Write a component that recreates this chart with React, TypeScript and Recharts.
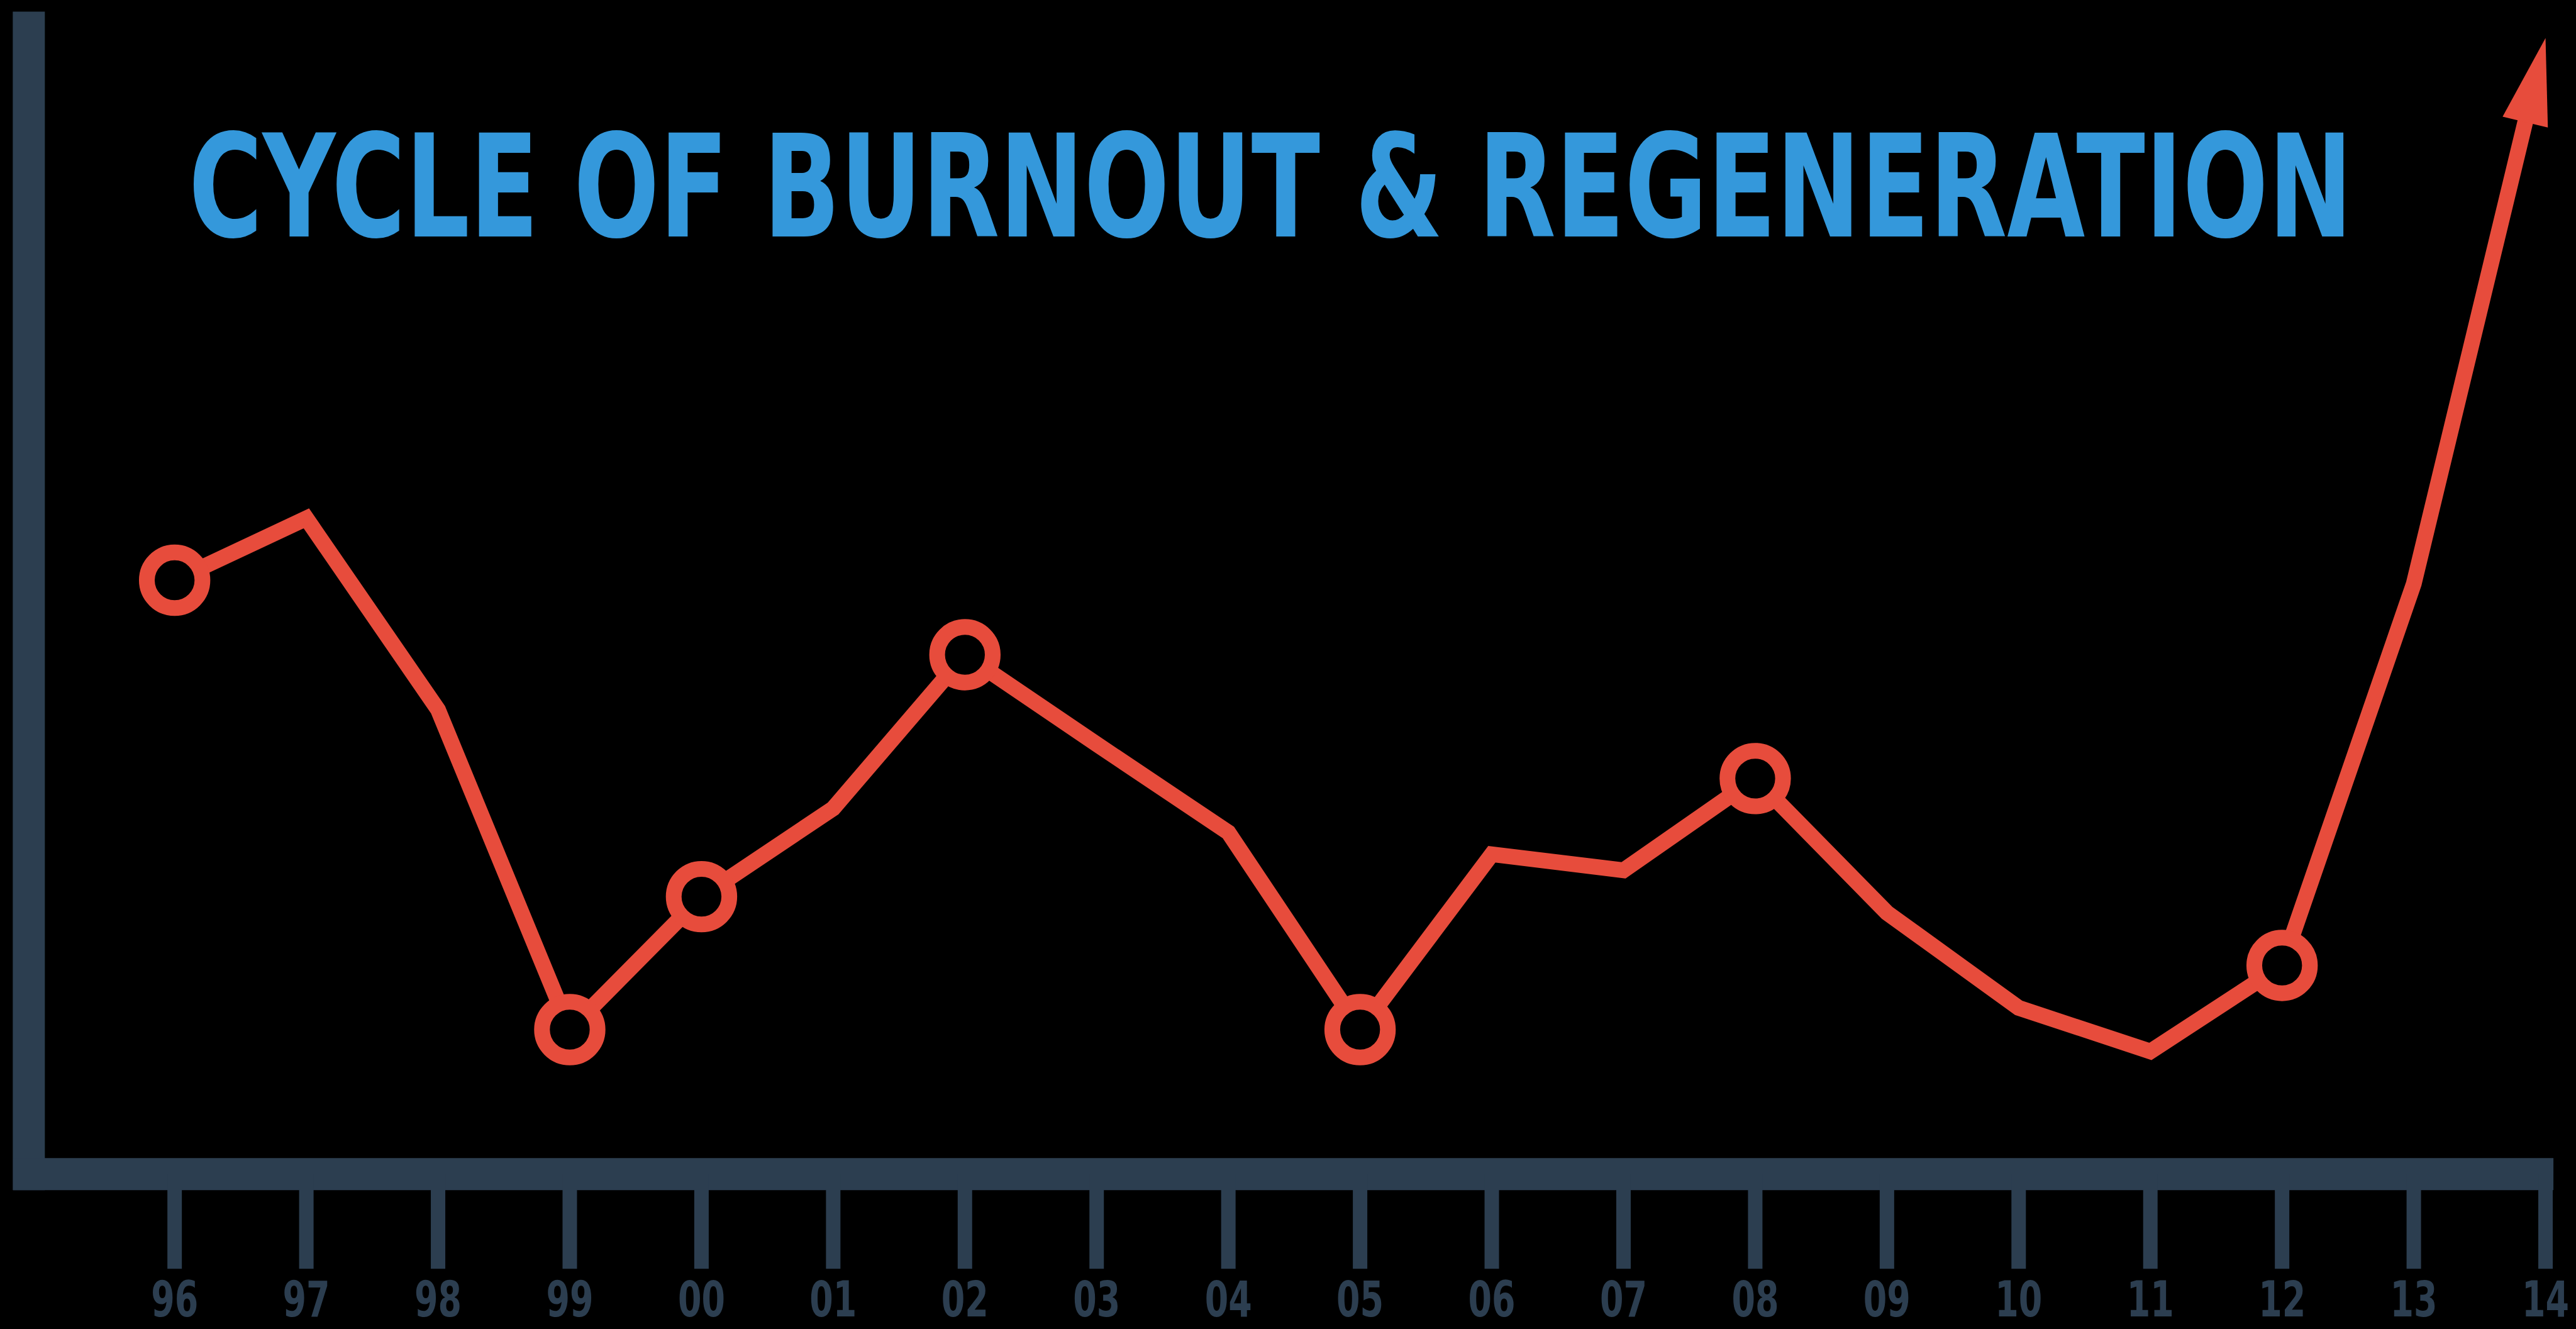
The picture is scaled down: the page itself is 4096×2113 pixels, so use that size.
// Cycle of burnout & regeneration — red line over a dark L-shaped frame
import { LineChart, Line, XAxis, YAxis, ReferenceLine, Customized } from 'recharts'

const years = ['96', '97', '98', '99', '00', '01', '02', '03', '04', '05', '06', '07', '08', '09', '10', '11', '12', '13', '14']
const energy = [51.8, 57.2, 40.5, 12.6, 24.2, 31.9, 45.3, 37.5, 29.8, 12.6, 27.9, 26.5, 34.5, 22.8, 14.5, 10.7, 18.2, 51.5, 99.1]
const ringed = [true, false, false, true, true, false, true, false, false, true, false, false, true, false, false, false, true, false, false]

const chartData = years.map((year, i) => ({ i, year, value: energy[i], ring: ringed[i] }))

const W = 4096
const H = 2113
const FRAME = '#2c3e50'
const RED = '#e74c3c'
const BLUE = '#3498db'
const FONT = "'Liberation Sans Narrow', 'DejaVu Sans Condensed', sans-serif"
const TITLE = 'CYCLE OF BURNOUT & REGENERATION'

// x domain runs from the left edge of the frame to the right end of the bottom bar
const X_MIN = -1.226
const X_MAX = 18.06
const FRAME_X = -1.107

let ctx: CanvasRenderingContext2D | null = null
function textWidth(text: string, size: number): number {
  if (!ctx) ctx = document.createElement('canvas').getContext('2d')
  if (!ctx) return text.length * size * 0.6
  ctx.font = `bold ${size}px ${FONT}`
  return ctx.measureText(text).width
}

function Ring(props: any) {
  const { cx, cy, payload, index } = props
  if (!payload?.ring) return <g key={`d-${index}`} />
  return <circle key={`d-${index}`} cx={cx} cy={cy} r={44.2} fill="#000" stroke={RED} strokeWidth={25} />
}

function YearTick({ x, y, payload }: any) {
  const label = years[payload.value]
  const size = 77.8
  const sx = 75 / textWidth(label, size)
  return (
    <g transform={`translate(${x}, ${y + 75.7}) scale(${sx}, 1)`}>
      <text x={0} y={0} textAnchor="middle" fill={FRAME} fontSize={size} fontWeight="bold" fontFamily={FONT}>
        {label}
      </text>
    </g>
  )
}

function Title() {
  const size = 226
  const sx = 3441 / textWidth(TITLE, size)
  return (
    <g transform={`translate(300, 375.7) scale(${sx}, 1)`}>
      <text x={0} y={0} fill={BLUE} fontSize={size} fontWeight="bold" fontFamily={FONT}>
        {TITLE}
      </text>
    </g>
  )
}

export default function App() {
  return (
    <div style={{ position: 'absolute', left: 0, top: 0, width: W, height: H, background: '#000' }}>
      <LineChart width={W} height={H} data={chartData} margin={{ top: 44, right: 35.9, bottom: 0, left: 20.9 }}>
        <defs>
          <marker
            id="arrowHead"
            markerUnits="userSpaceOnUse"
            viewBox="-150 -50 160 100"
            markerWidth={160}
            markerHeight={100}
            refX={0}
            refY={0}
            orient="auto"
          >
            <rect x={-55} y={-14} width={57} height={28} fill="#000" />
            <polygon points="0,0 -137.5,-37 -137.5,37" fill={RED} />
          </marker>
        </defs>
        <XAxis
          type="number"
          dataKey="i"
          domain={[X_MIN, X_MAX]}
          ticks={years.map((_, i) => i)}
          interval={0}
          height={246.3}
          tickSize={150.6}
          tickMargin={0}
          axisLine={{ stroke: FRAME, strokeWidth: 51 }}
          tickLine={{ stroke: FRAME, strokeWidth: 23 }}
          tick={<YearTick />}
        />
        <YAxis type="number" domain={[0, 100]} hide />
        <ReferenceLine x={FRAME_X} stroke={FRAME} strokeWidth={51} strokeLinecap="square" />
        <Line
          type="linear"
          dataKey="value"
          stroke={RED}
          strokeWidth={25}
          strokeLinejoin="miter"
          markerEnd="url(#arrowHead)"
          dot={(p: any) => <Ring {...p} />}
          activeDot={false}
          isAnimationActive={false}
        />
        <Customized component={<Title />} />
      </LineChart>
    </div>
  )
}
